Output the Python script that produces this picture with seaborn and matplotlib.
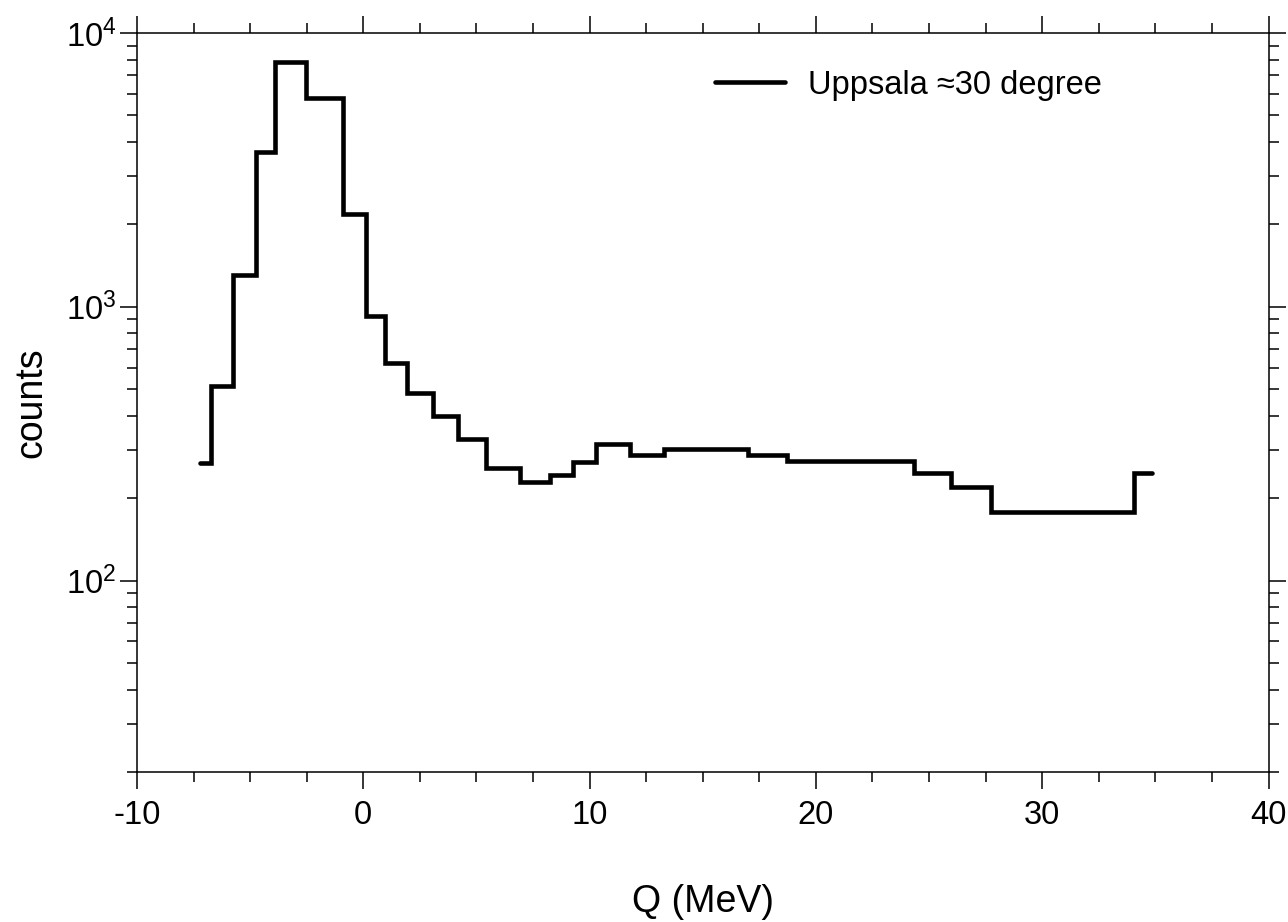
import matplotlib
matplotlib.use("Agg")
import matplotlib.pyplot as plt
import matplotlib.ticker as mticker
import numpy as np
import pandas as pd
import seaborn as sns

# ---- data ----
bin_edges = [-7.2, -6.71, -5.77, -4.72, -3.91, -2.51, -0.89, 0.12, 0.95, 1.93,
             3.07, 4.17, 5.42, 6.91, 8.23, 9.27, 10.30, 11.77, 13.30, 17.02,
             18.72, 24.35, 25.98, 27.74, 34.06, 34.84]
bin_counts = [270, 512, 1306, 3690, 7856, 5805, 2180, 922, 623, 484,
              400, 329, 258, 230, 244, 272, 316, 288, 302, 287,
              274, 247, 219, 178, 248]
series_label = "Uppsala \u224830 degree"
x_label = "Q (MeV)"
y_label = "counts"
x_ticks = [-10, 0, 10, 20, 30, 40]
y_ticks = [100, 1000, 10000]

sns.set_style("ticks")
plt.rcParams["font.family"] = ["Liberation Sans", "DejaVu Sans"]
plt.rcParams["mathtext.fontset"] = "custom"
plt.rcParams["mathtext.rm"] = "Liberation Sans"
plt.rcParams["mathtext.it"] = "Liberation Sans"
for k in ["text.color", "axes.labelcolor", "xtick.color", "ytick.color", "axes.edgecolor"]:
    plt.rcParams[k] = "black"

fig = plt.figure(figsize=(12.88, 9.22), dpi=100)
ax = fig.add_axes([137 / 1288, 1 - 772 / 922, (1268.5 - 137) / 1288, (772 - 33) / 922])

df = pd.DataFrame({"Q": bin_edges, "counts": bin_counts + [bin_counts[-1]]})
sns.lineplot(data=df, x="Q", y="counts", ax=ax, estimator=None, sort=False,
             drawstyle="steps-post", color="black", linewidth=3.3,
             solid_joinstyle="miter", solid_capstyle="round", label=series_label)

ax.set_yscale("log")
ax.set_xlim(-10, 40)
ax.set_ylim(20, 10000)

ax.set_xticks(x_ticks)
ax.set_xticklabels([str(t) for t in x_ticks])
ax.xaxis.set_minor_locator(mticker.MultipleLocator(2.5))
ax.yaxis.set_major_locator(mticker.FixedLocator(y_ticks))
ax.yaxis.set_major_formatter(mticker.FuncFormatter(
    lambda v, p: r"$\mathregular{10^{%d}}$" % int(round(np.log10(v)))))
ax.yaxis.set_minor_locator(mticker.LogLocator(base=10, subs=np.arange(2, 10)))
ax.yaxis.set_minor_formatter(mticker.NullFormatter())

for s in ax.spines.values():
    s.set_visible(True)
    s.set_linewidth(1.1)
    s.set_color("black")

ax.tick_params(which="both", direction="out", top=True, right=True,
               color="black", width=1.1)
ax.tick_params(which="major", length=12)
ax.tick_params(which="minor", length=7)
ax.tick_params(axis="x", which="major", labelsize=23.5, pad=8)
ax.tick_params(axis="y", which="major", labelsize=23.5, pad=3)

ax.set_xlabel(x_label, fontsize=27, labelpad=38)
ax.set_ylabel(y_label, fontsize=27, labelpad=12)

ax.legend(loc="center left", bbox_to_anchor=(0.511, 0.9296), frameon=False,
          fontsize=23.5, handlelength=2.15, handletextpad=0.7,
          borderpad=0, borderaxespad=0)

fig.savefig("out.png", dpi=100, facecolor="white")
